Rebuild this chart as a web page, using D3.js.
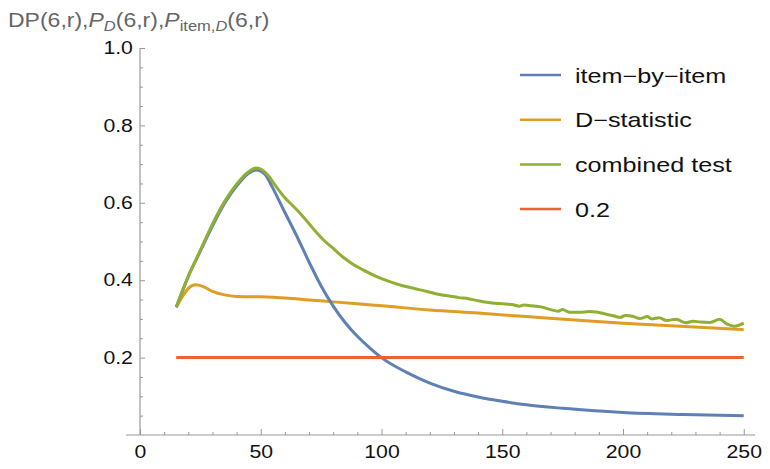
<!DOCTYPE html>
<html>
<head>
<meta charset="utf-8">
<script src="https://cdn.jsdelivr.net/npm/d3@7"></script>
<style>
  body { margin: 0; background: #fff; }
  text { font-family: "Liberation Sans", Arial, sans-serif; }
</style>
</head>
<body>
<svg id="chart" width="770" height="469"></svg>
<script>
// r values and probabilities
const item_r = [15, 20, 25, 30, 35, 40, 45, 48, 50, 52, 55, 60, 65, 70, 75, 80, 85, 90, 95, 100,
                110, 120, 130, 140, 150, 160, 175, 190, 200, 225, 250];
const item_v = [0.33, 0.41, 0.475, 0.54, 0.598, 0.643, 0.676, 0.685, 0.682, 0.672, 0.638, 0.575, 0.513, 0.447, 0.385, 0.333, 0.29, 0.255, 0.226, 0.2,
                0.163, 0.134, 0.113, 0.098, 0.087, 0.078, 0.069, 0.062, 0.058, 0.053, 0.05];

const dstat_r = [15, 18, 20, 23, 26, 30, 35, 40, 50, 60, 70, 80, 90, 100, 120, 140, 160, 180, 200, 220, 250];
const dstat_v = [0.33, 0.362, 0.379, 0.388, 0.384, 0.371, 0.362, 0.358, 0.357, 0.354, 0.349, 0.344, 0.339, 0.334, 0.323, 0.315, 0.306, 0.297, 0.289, 0.282, 0.272];

const comb_r = [15, 20, 25, 30, 35, 40, 45, 48, 50, 53, 56, 60, 63, 66, 70, 73, 76, 80, 84, 88, 92, 96, 100,
                104, 108, 112, 116, 120, 124, 128, 132, 136, 140, 145, 150, 154, 157, 159, 162, 166, 170, 173, 175,
                178, 182, 186, 189, 193, 196, 199, 201, 204, 207, 210, 212, 215, 218, 222, 226, 229, 232, 236, 240,
                243, 246, 250];
const comb_v = [0.33, 0.41, 0.478, 0.545, 0.603, 0.648, 0.68, 0.69, 0.687, 0.671, 0.645, 0.613, 0.594, 0.575, 0.546, 0.524, 0.504, 0.482, 0.46, 0.442, 0.428, 0.415, 0.404,
                0.395, 0.387, 0.381, 0.375, 0.369, 0.363, 0.359, 0.355, 0.352, 0.347, 0.342, 0.339, 0.337, 0.333, 0.336, 0.334, 0.331, 0.324, 0.320, 0.324,
                0.317, 0.317, 0.319, 0.318, 0.312, 0.308, 0.304, 0.309, 0.307, 0.301, 0.306, 0.300, 0.303, 0.296, 0.299, 0.290, 0.294, 0.292, 0.291, 0.299,
                0.287, 0.281, 0.289];

const ref_r = [15, 250];
const ref_v = [0.2, 0.2];

const legend_labels = ["item\u2212by\u2212item", "D\u2212statistic", "combined test", "0.2"];
const colors = ["#5e81b5", "#e19c24", "#8fb032", "#eb6235"];

const x_ticks = [0, 50, 100, 150, 200, 250];
const y_ticks = [0.2, 0.4, 0.6, 0.8, 1.0];

const svg = d3.select("#chart");

const x = d3.scaleLinear().domain([0, 250]).range([140, 743.75]);
const y = d3.scaleLinear().domain([0, 1]).range([435, 48]);

const axis_col = "#999";
const stretch = 1.18;

//axis lines
svg.append("line")
    .attr("x1", x(-5.8)).attr("x2", x(254.7))
    .attr("y1", y(0)).attr("y2", y(0))
    .attr("stroke", axis_col).attr("stroke-width", 1.2);
svg.append("line")
    .attr("x1", x(0)).attr("x2", x(0))
    .attr("y1", y(0)).attr("y2", y(1))
    .attr("stroke", axis_col).attr("stroke-width", 1.2);

//minor ticks
const x_minor = d3.range(10, 251, 10).filter(d => d % 50 != 0);
const y_minor = d3.range(0.05, 1.0, 0.05).filter(d => Math.abs(d*10 - Math.round(d*10)) > 0.01 || Math.round(d*10) % 2 == 1);

svg.append("g")
    .attr("transform", "translate(0," + y(0) + ")")
    .call(d3.axisBottom(x).tickValues(x_minor).tickSize(-3).tickSizeOuter(0).tickFormat(""))
    .call(g => g.select(".domain").remove())
    .call(g => g.selectAll("line").attr("stroke", axis_col));
svg.append("g")
    .attr("transform", "translate(" + x(0) + ",0)")
    .call(d3.axisLeft(y).tickValues(y_minor).tickSize(-3).tickSizeOuter(0).tickFormat(""))
    .call(g => g.select(".domain").remove())
    .call(g => g.selectAll("line").attr("stroke", axis_col));

//major ticks with labels
svg.append("g")
    .attr("transform", "translate(0," + y(0) + ")")
    .call(d3.axisBottom(x).tickValues(x_ticks).tickSize(-6).tickSizeOuter(0).tickPadding(10).tickFormat(d3.format("d")))
    .call(g => g.select(".domain").remove())
    .call(g => g.selectAll("line").attr("stroke", axis_col))
    .call(g => g.selectAll("text")
        .attr("font-size", 18)
        .attr("fill", "#111")
        .attr("font-family", "Liberation Sans, Arial, sans-serif")
        .attr("transform", "scale(" + stretch + ",1)"));
svg.append("g")
    .attr("transform", "translate(" + x(0) + ",0)")
    .call(d3.axisLeft(y).tickValues(y_ticks).tickSize(-5).tickSizeOuter(0).tickPadding(6).tickFormat(d3.format(".1f")))
    .call(g => g.select(".domain").remove())
    .call(g => g.selectAll("line").attr("stroke", axis_col))
    .call(g => g.selectAll("text")
        .attr("font-size", 18)
        .attr("fill", "#111")
        .attr("font-family", "Liberation Sans, Arial, sans-serif")
        .attr("transform", "scale(" + stretch + ",1)"));

//curves
const line = d3.line()
    .x(d => x(d[0]))
    .y(d => y(d[1]))
    .curve(d3.curveMonotoneX);

const series = [
    d3.zip(item_r, item_v),
    d3.zip(dstat_r, dstat_v),
    d3.zip(comb_r, comb_v),
    d3.zip(ref_r, ref_v)
];
// draw order: orange, blue, green on top of blue near the peak, red
[1, 0, 2, 3].forEach(i => {
    svg.append("path")
        .attr("d", line(series[i]))
        .attr("fill", "none")
        .attr("stroke", colors[i])
        .attr("stroke-width", 3)
        .attr("stroke-linejoin", "round");
});

//legend
const legend = svg.append("g");
legend_labels.forEach((lab, i) => {
    const ly = 75 + i * 44.7;
    legend.append("line")
        .attr("x1", 520).attr("x2", 561)
        .attr("y1", ly).attr("y2", ly)
        .attr("stroke", colors[i])
        .attr("stroke-width", 2.5);
    legend.append("text")
        .attr("transform", "translate(575," + (ly + 7.5) + ") scale(1.26,1)")
        .attr("font-size", 20)
        .attr("fill", "#111")
        .text(lab);
});

//title
const title = svg.append("text")
    .attr("transform", "translate(8,27) scale(" + stretch + ",1)")
    .attr("font-size", 19.5)
    .attr("fill", "#666");
title.append("tspan").text("DP(6,r),");
title.append("tspan").attr("font-style", "italic").text("P");
title.append("tspan").attr("font-style", "italic").attr("font-size", 14).attr("dy", 4).text("D");
title.append("tspan").attr("dy", -4).text("(6,r),");
title.append("tspan").attr("font-style", "italic").text("P");
title.append("tspan").attr("font-size", 14).attr("dy", 4).text("item,");
title.append("tspan").attr("font-style", "italic").attr("font-size", 14).text("D");
title.append("tspan").attr("dy", -4).text("(6,r)");
</script>
</body>
</html>
